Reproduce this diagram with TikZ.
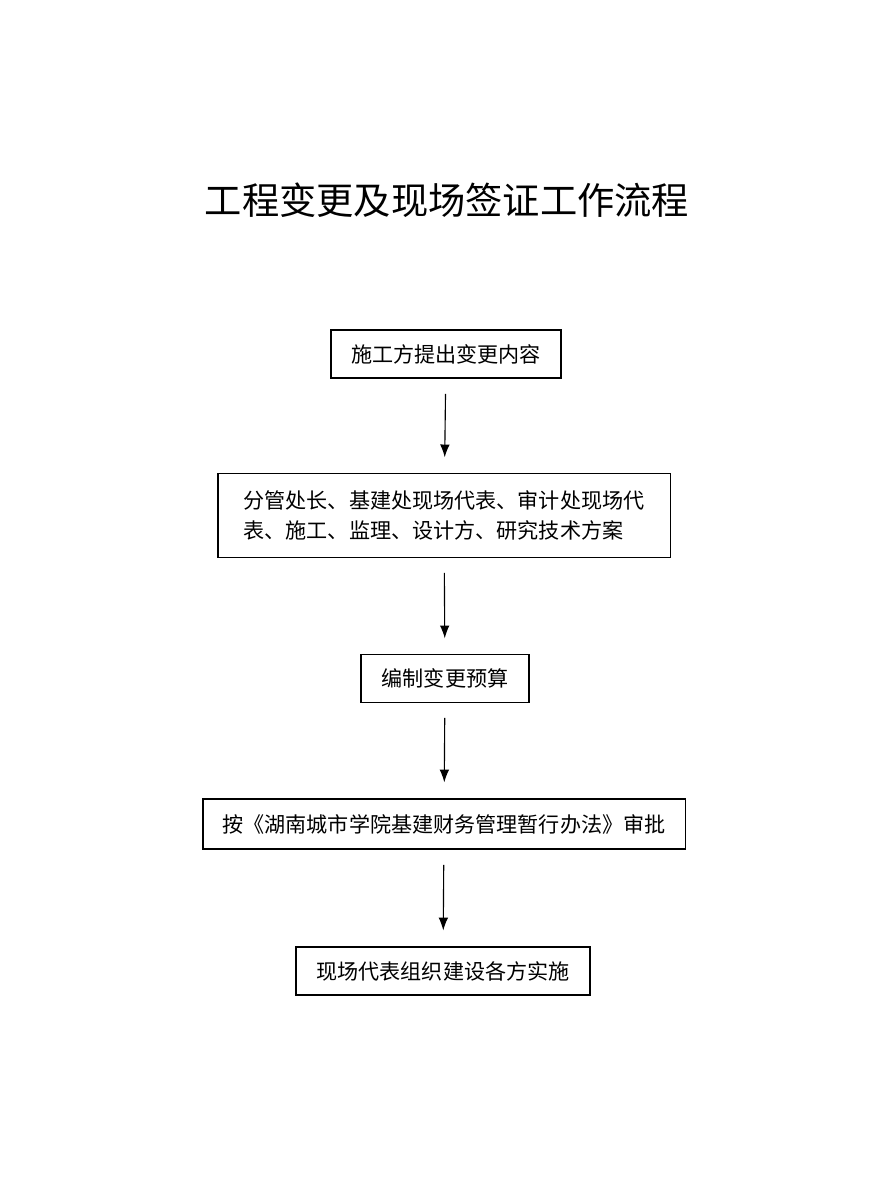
\documentclass[tikz,border=0pt]{standalone}
\usepackage{fontspec}
\setmainfont{Noto Sans CJK SC}
\usetikzlibrary{arrows.meta}
\tikzstyle{stepbox} = [rectangle, draw=black, thick, inner sep=0pt, text centered, font=\fontsize{15pt}{21pt}\selectfont]
\tikzstyle{arrow} = [thick,-{Latex[length=3.2mm,width=2.4mm]}, shorten <=0.38cm, shorten >=0.4cm]

\begin{document}
\begin{tikzpicture}[x=0.025cm, y=-0.025cm]
    \useasboundingbox (0,0) rectangle (880,1184);

    \node (title) at (447,200) {\fontsize{26.5pt}{32pt}\selectfont 工程变更及现场签证工作流程};

    \node (A) [stepbox, minimum width=5.75cm, minimum height=1.2cm] at (446,354) {施工方提出变更内容};
    \node (B) [stepbox, minimum width=11.3cm, minimum height=2.08cm, align=left] at (444,515.5)
        {分管处长、基建处现场代表、审计处现场代\\表、施工、监理、设计方、研究技术方案};
    \node (C) [stepbox, minimum width=4.2cm, minimum height=1.18cm] at (445,678.5) {编制变更预算};
    \node (D) [stepbox, minimum width=12.05cm, minimum height=1.25cm] at (444,824) {按《湖南城市学院基建财务管理暂行办法》审批};
    \node (E) [stepbox, minimum width=7.35cm, minimum height=1.2cm] at (443,971) {现场代表组织建设各方实施};

    \draw [arrow] (A) -- (B);
    \draw [arrow] (B) -- (C);
    \draw [arrow] (C) -- (D);
    \draw [arrow] (D) -- (E);
\end{tikzpicture}
\end{document}
